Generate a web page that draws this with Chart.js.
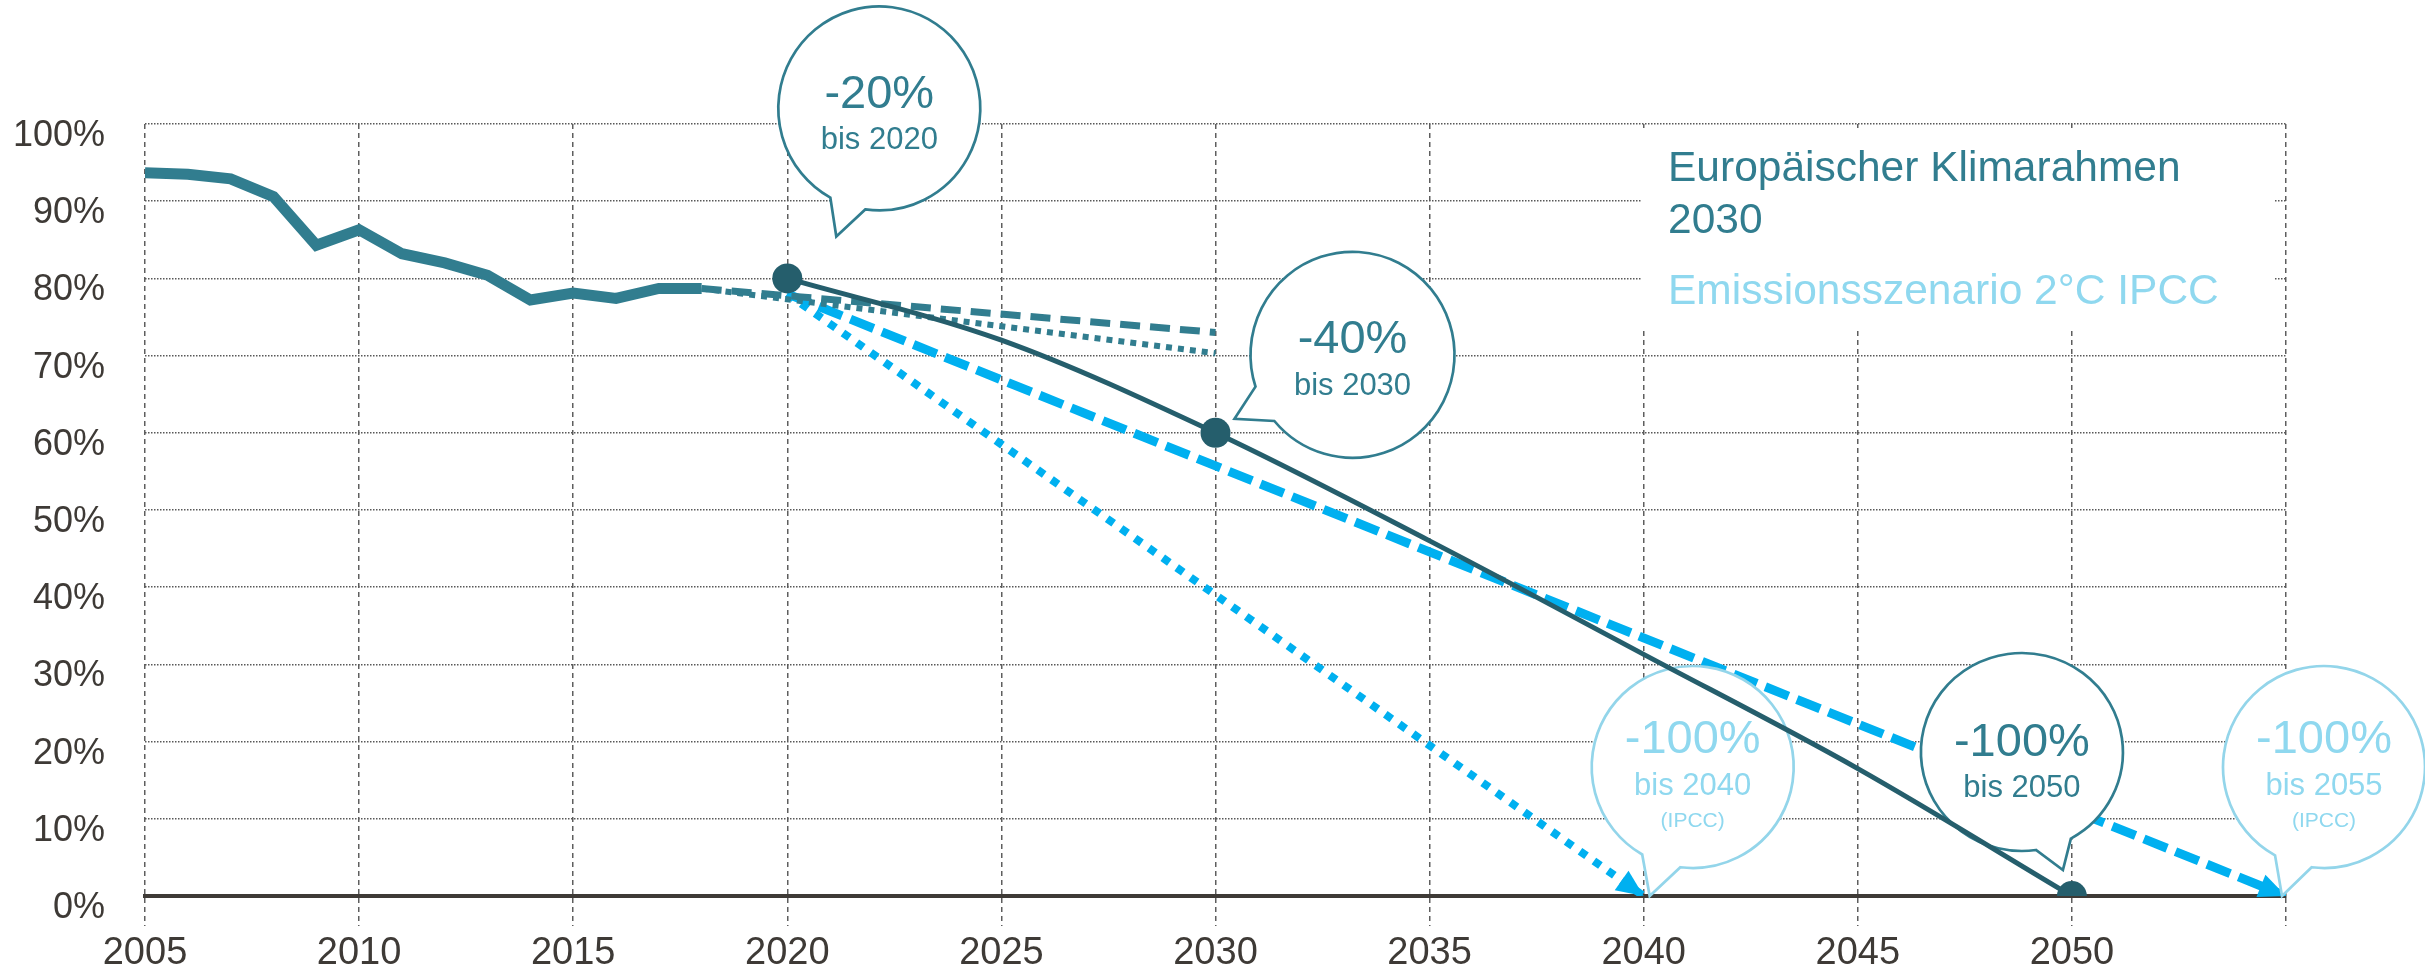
<!DOCTYPE html>
<html lang="de">
<head>
<meta charset="utf-8">
<title>Emissionspfade</title>
<script src="https://cdn.jsdelivr.net/npm/chart.js@4.4.1/dist/chart.umd.min.js"></script>
<style>
  html, body { margin: 0; padding: 0; background: #fff; }
  canvas { display: block; }
</style>
</head>
<body>
<canvas id="chart" width="2425" height="978"></canvas>
<script>
// Emissionen in % (Basis 1990)
const histYears  = [2005, 2006, 2007, 2008, 2009, 2010, 2011, 2012, 2013, 2014, 2015, 2016, 2017, 2018];
const histValues = [93.7, 93.5, 92.9, 90.6, 84.3, 86.3, 83.2, 82.0, 80.4, 77.2, 78.1, 77.4, 78.7, 78.7];

// Trendfortschreibung bis 2030
const trendYears     = [2018, 2030];
const trendValues    = [78.7, 73.0];
const trendLowValues = [78.7, 70.3];

// Zielpfad Europäischer Klimarahmen
const targetYears  = [2020, 2025, 2030, 2035, 2040, 2045, 2050];
const targetValues = [80, 72, 60, 46, 31.3, 16.5, 0];
const targetMarks  = [2020, 2030, 2050];

// IPCC 2°C Szenarien
const ipccLateYears  = [2020, 2055];
const ipccLateValues = [78, 0];
const ipccEarlyYears  = [2020, 2040];
const ipccEarlyValues = [78, 0];

const xLabelYears = [2005, 2010, 2015, 2020, 2025, 2030, 2035, 2040, 2045, 2050];

const TEAL = '#317d8f';
const DARK = '#255e6c';
const BLUE = '#00b0f0';
const LIGHT = '#93d5ea';
const LIGHT_TEXT = '#8fd8ef';
const AXIS_TEXT = '#3e3a36';
const GRID = '#5e5e5e';
const FONT = '"Liberation Sans", Arial, sans-serif';

const pts = (xs, ys) => xs.map((x, i) => ({ x: x, y: ys[i] }));

// Sprechblasen: Anker = Datenpunkt, Versatz in Pixeln
const callouts = [
  { at: [2020, 80], dx: 92, dy: -170, rx: 101, ry: 102, tip: [49, -42], tail: [98, 119],
    color: TEAL, textColor: TEAL, lines: [['-20%', 47, 0], ['bis 2020', 31, 41]] },
  { at: [2030, 60], dx: 137, dy: -78, rx: 102, ry: 103, tip: [19, -14], tail: [140, 162],
    color: TEAL, textColor: TEAL, lines: [['-40%', 47, -2], ['bis 2030', 31, 40]] },
  { at: [2050, 0], dx: -50, dy: -144, rx: 101, ry: 99, tip: [-9, -26], tail: [61, 82],
    color: TEAL, textColor: TEAL, lines: [['-100%', 47, 4], ['bis 2050', 31, 45]] },
  { at: [2040, 0], dx: 49, dy: -129, rx: 101, ry: 101, tip: [6, 0], tail: [97, 120],
    color: LIGHT, textColor: LIGHT_TEXT, lines: [['-100%', 47, -14], ['bis 2040', 31, 28], ['(IPCC)', 21, 60]] },
  { at: [2055, 0], dx: 38, dy: -129, rx: 101, ry: 101, tip: [-4, 0], tail: [97, 119],
    color: LIGHT, textColor: LIGHT_TEXT, lines: [['-100%', 47, -14], ['bis 2055', 31, 28], ['(IPCC)', 21, 60]] }
];

function drawCallout(ctx, chart, c) {
  const ax = chart.scales.x.getPixelForValue(c.at[0]);
  const ay = chart.scales.y.getPixelForValue(c.at[1]);
  const cx = ax + c.dx, cy = ay + c.dy;
  const a1 = c.tail[0] * Math.PI / 180, a2 = c.tail[1] * Math.PI / 180;
  ctx.save();
  ctx.beginPath();
  ctx.ellipse(cx, cy, c.rx, c.ry, 0, a2, a1 + 2 * Math.PI);
  ctx.lineTo(ax + c.tip[0], ay + c.tip[1]);
  ctx.closePath();
  ctx.fillStyle = '#fff';
  ctx.fill();
  ctx.lineWidth = 2.7;
  ctx.strokeStyle = c.color;
  ctx.stroke();
  ctx.fillStyle = c.textColor;
  ctx.textAlign = 'center';
  ctx.textBaseline = 'alphabetic';
  c.lines.forEach(([txt, size, off]) => {
    ctx.font = size + 'px ' + FONT;
    ctx.fillText(txt, cx, cy + off);
  });
  ctx.restore();
}

function drawArrow(ctx, meta, color) {
  const n = meta.data.length;
  const p1 = meta.data[n - 2], p2 = meta.data[n - 1];
  const ang = Math.atan2(p2.y - p1.y, p2.x - p1.x);
  const len = 27, half = 12;
  const bx = p2.x - len * Math.cos(ang), by = p2.y - len * Math.sin(ang);
  ctx.save();
  ctx.fillStyle = color;
  ctx.beginPath();
  ctx.moveTo(p2.x, p2.y);
  ctx.lineTo(bx + half * Math.sin(ang), by - half * Math.cos(ang));
  ctx.lineTo(bx - half * Math.sin(ang), by + half * Math.cos(ang));
  ctx.closePath();
  ctx.fill();
  ctx.restore();
}

const overlay = {
  id: 'overlay',
  beforeDatasetsDraw(chart) {
    // Legende mit weißem Hintergrund
    const ctx = chart.ctx;
    ctx.save();
    ctx.fillStyle = '#fff';
    ctx.fillRect(1642, 128, 633, 199);
    ctx.font = '42.5px ' + FONT;
    ctx.textAlign = 'left';
    ctx.textBaseline = 'alphabetic';
    ctx.fillStyle = TEAL;
    ctx.fillText('Europäischer Klimarahmen', 1668, 181);
    ctx.fillText('2030', 1668, 233);
    ctx.fillStyle = LIGHT_TEXT;
    ctx.fillText('Emissionsszenario 2°C IPCC', 1668, 304);
    ctx.restore();
  },
  afterDatasetDraw(chart, args) {
    if (args.index === 4 || args.index === 5) drawArrow(chart.ctx, args.meta, BLUE);
  },
  beforeDatasetDraw(chart, args) {
    // Sprechblasen liegen über allen Linien außer dem Zielpfad
    if (args.index === 0) callouts.forEach(c => drawCallout(chart.ctx, chart, c));
  }
};

new Chart(document.getElementById('chart'), {
  type: 'line',
  data: {
    datasets: [
      {
        label: 'Europäischer Klimarahmen 2030',
        data: pts(targetYears, targetValues),
        borderColor: DARK,
        backgroundColor: DARK,
        borderWidth: 5,
        cubicInterpolationMode: 'monotone',
        pointRadius: targetYears.map(y => targetMarks.includes(y) ? 15 : 0),
        pointBackgroundColor: DARK,
        pointBorderWidth: 0
      },
      {
        label: 'Emissionen',
        data: pts(histYears, histValues),
        borderColor: TEAL,
        borderWidth: 11,
        borderJoinStyle: 'miter',
        pointRadius: 0,
        tension: 0
      },
      {
        label: 'Trend',
        data: pts(trendYears, trendValues),
        borderColor: TEAL,
        borderWidth: 7,
        borderDash: [20, 10],
        pointRadius: 0
      },
      {
        label: 'Trend (niedrig)',
        data: pts(trendYears, trendLowValues),
        borderColor: TEAL,
        borderWidth: 6,
        borderDash: [6, 6],
        pointRadius: 0
      },
      {
        label: 'IPCC 2055',
        data: pts(ipccLateYears, ipccLateValues),
        borderColor: BLUE,
        borderWidth: 9,
        borderDash: [25, 9],
        pointRadius: 0
      },
      {
        label: 'IPCC 2040',
        data: pts(ipccEarlyYears, ipccEarlyValues),
        borderColor: BLUE,
        borderWidth: 8,
        borderDash: [8, 9],
        pointRadius: 0
      }
    ]
  },
  options: {
    responsive: false,
    animation: false,
    devicePixelRatio: 1,
    layout: { padding: { top: 124, right: 139, left: 0, bottom: 0 } },
    plugins: { legend: { display: false }, tooltip: { enabled: false } },
    scales: {
      x: {
        type: 'linear',
        min: 2005,
        max: 2055,
        afterFit: s => { s.height = 82; },
        grid: {
          color: GRID,
          lineWidth: 1.5,
          drawTicks: true,
          tickLength: 30,
          tickColor: GRID,
          tickWidth: 1.5,
          tickBorderDash: [5, 4]
        },
        border: { display: true, color: AXIS_TEXT, width: 4, dash: [5, 4] },
        ticks: {
          stepSize: 5,
          autoSkip: false,
          maxRotation: 0,
          padding: 5,
          color: AXIS_TEXT,
          font: { family: FONT, size: 38 },
          callback: v => xLabelYears.includes(v) ? String(v) : ''
        }
      },
      y: {
        min: 0,
        max: 100,
        afterFit: s => { s.width = 145; },
        grid: { color: '#585858', lineWidth: 1.5, drawTicks: false },
        border: { display: false, dash: [1.5, 1.5] },
        ticks: {
          stepSize: 10,
          padding: 40,
          labelOffset: 12,
          color: AXIS_TEXT,
          font: { family: FONT, size: 36 },
          callback: v => v + '%'
        }
      }
    }
  },
  plugins: [overlay]
});
</script>
</body>
</html>
